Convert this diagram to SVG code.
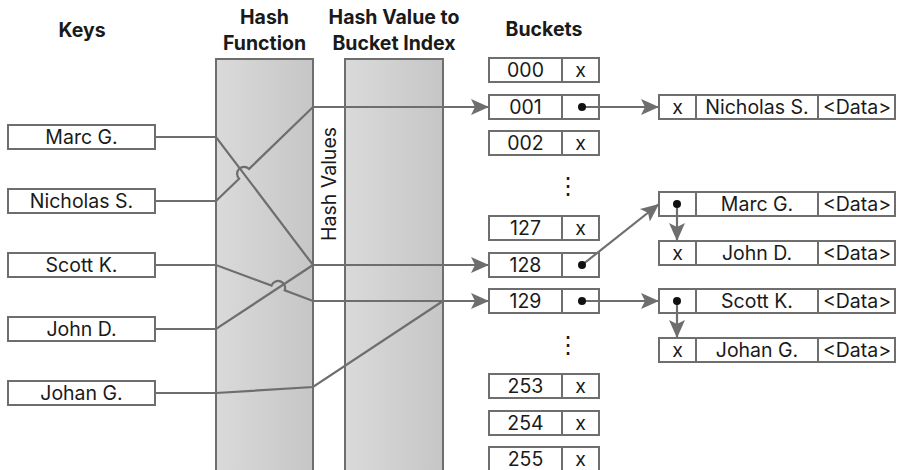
<svg xmlns="http://www.w3.org/2000/svg" width="897" height="470" viewBox="0 0 897 470">
<style>
.hdr{font-family:Inter,"Liberation Sans",sans-serif;font-weight:700;font-size:19.5px;fill:#1a1a1a;text-anchor:middle}
.lbl{font-family:Inter,"Liberation Sans",sans-serif;font-size:19.5px;fill:#1a1a1a;text-anchor:middle}
.box{fill:#fff;stroke:#6e6e6e;stroke-width:2}
.col{fill:url(#colgrad);stroke:#6e6e6e;stroke-width:2}
.wire{fill:none;stroke:#6e6e6e;stroke-width:2.2;stroke-linejoin:miter}
.arr{marker-end:url(#ah)}
.dot{fill:#111}
.ell{font-family:"DejaVu Sans",sans-serif;font-size:24px;fill:#1a1a1a;text-anchor:middle}
</style>
<defs>
<linearGradient id="colgrad" x1="0" y1="0" x2="1" y2="0">
<stop offset="0" stop-color="#dadada"/>
<stop offset="1" stop-color="#c6c6c6"/>
</linearGradient>
<marker id="ah" markerUnits="userSpaceOnUse" markerWidth="20" markerHeight="18" viewBox="0 0 20 18" refX="19" refY="9" orient="auto">
<path d="M1,1 L19,9 L1,17 L5,9 Z" fill="#6e6e6e"/>
</marker>
</defs>
<rect width="897" height="470" fill="#fff"/>

<g id="headers">
<text class="hdr" x="82" y="37">Keys</text>
<text class="hdr" x="264.5" y="24">Hash</text>
<text class="hdr" x="264.5" y="50">Function</text>
<text class="hdr" x="394" y="24">Hash Value to</text>
<text class="hdr" x="394" y="50">Bucket Index</text>
<text class="hdr" x="544" y="36">Buckets</text>
</g>

<g id="hash-function">
<path class="col" d="M216,472 V59 H313 V472"/>
</g>
<g id="bucket-index">
<path class="col" d="M345,472 V59 H443 V472"/>
</g>
<g id="hash-values-label">
<text class="lbl" transform="translate(336,184) rotate(-90)">Hash Values</text>
</g>

<g id="keys">
<g id="key-marc"><rect class="box" x="8" y="125" width="147" height="24"/><text class="lbl" x="81.5" y="144">Marc G.</text></g>
<g id="key-nicholas"><rect class="box" x="8" y="189" width="147" height="24"/><text class="lbl" x="81.5" y="208">Nicholas S.</text></g>
<g id="key-scott"><rect class="box" x="8" y="253" width="147" height="24"/><text class="lbl" x="81.5" y="272">Scott K.</text></g>
<g id="key-john"><rect class="box" x="8" y="317" width="147" height="24"/><text class="lbl" x="81.5" y="336">John D.</text></g>
<g id="key-johan"><rect class="box" x="8" y="381" width="147" height="24"/><text class="lbl" x="81.5" y="400">Johan G.</text></g>
</g>

<g id="buckets">
<g id="b000"><rect class="box" x="489" y="58" width="73" height="24"/><rect class="box" x="562" y="58" width="37" height="24"/><text class="lbl" x="525.5" y="77">000</text><text class="lbl" x="580.5" y="77">x</text></g>
<g id="b001"><rect class="box" x="489" y="95" width="73" height="24"/><rect class="box" x="562" y="95" width="37" height="24"/><text class="lbl" x="525.5" y="114">001</text></g>
<g id="b002"><rect class="box" x="489" y="131" width="73" height="24"/><rect class="box" x="562" y="131" width="37" height="24"/><text class="lbl" x="525.5" y="150">002</text><text class="lbl" x="580.5" y="150">x</text></g>
<text class="ell" x="568" y="194">⋮</text>
<g id="b127"><rect class="box" x="489" y="216" width="73" height="24"/><rect class="box" x="562" y="216" width="37" height="24"/><text class="lbl" x="525.5" y="235">127</text><text class="lbl" x="580.5" y="235">x</text></g>
<g id="b128"><rect class="box" x="489" y="253" width="73" height="24"/><rect class="box" x="562" y="253" width="37" height="24"/><text class="lbl" x="525.5" y="272">128</text></g>
<g id="b129"><rect class="box" x="489" y="289" width="73" height="24"/><rect class="box" x="562" y="289" width="37" height="24"/><text class="lbl" x="525.5" y="308">129</text></g>
<text class="ell" x="568" y="353">⋮</text>
<g id="b253"><rect class="box" x="489" y="374" width="73" height="24"/><rect class="box" x="562" y="374" width="37" height="24"/><text class="lbl" x="525.5" y="393">253</text><text class="lbl" x="580.5" y="393">x</text></g>
<g id="b254"><rect class="box" x="489" y="411" width="73" height="24"/><rect class="box" x="562" y="411" width="37" height="24"/><text class="lbl" x="525.5" y="430">254</text><text class="lbl" x="580.5" y="430">x</text></g>
<g id="b255"><rect class="box" x="489" y="447" width="73" height="24"/><rect class="box" x="562" y="447" width="37" height="24"/><text class="lbl" x="525.5" y="466">255</text><text class="lbl" x="580.5" y="466">x</text></g>
</g>

<g id="entries">
<g id="e-nicholas"><rect class="box" x="659" y="95" width="37" height="24"/><rect class="box" x="696" y="95" width="122" height="24"/><rect class="box" x="818" y="95" width="77" height="24"/><text class="lbl" x="677.5" y="114">x</text><text class="lbl" x="757" y="114">Nicholas S.</text><text class="lbl" x="857" y="114">&lt;Data&gt;</text></g>
<g id="e-marc"><rect class="box" x="659" y="192" width="37" height="24"/><rect class="box" x="696" y="192" width="122" height="24"/><rect class="box" x="818" y="192" width="77" height="24"/><text class="lbl" x="757" y="211">Marc G.</text><text class="lbl" x="857" y="211">&lt;Data&gt;</text></g>
<g id="e-john"><rect class="box" x="659" y="241" width="37" height="24"/><rect class="box" x="696" y="241" width="122" height="24"/><rect class="box" x="818" y="241" width="77" height="24"/><text class="lbl" x="677.5" y="260">x</text><text class="lbl" x="757" y="260">John D.</text><text class="lbl" x="857" y="260">&lt;Data&gt;</text></g>
<g id="e-scott"><rect class="box" x="659" y="289" width="37" height="24"/><rect class="box" x="696" y="289" width="122" height="24"/><rect class="box" x="818" y="289" width="77" height="24"/><text class="lbl" x="757" y="308">Scott K.</text><text class="lbl" x="857" y="308">&lt;Data&gt;</text></g>
<g id="e-johan"><rect class="box" x="659" y="338" width="37" height="24"/><rect class="box" x="696" y="338" width="122" height="24"/><rect class="box" x="818" y="338" width="77" height="24"/><text class="lbl" x="677.5" y="357">x</text><text class="lbl" x="757" y="357">Johan G.</text><text class="lbl" x="857" y="357">&lt;Data&gt;</text></g>
</g>

<g id="connectors">
<path class="wire arr" d="M155,201 H216 L239.1,178.7 A7,7 0 0 1 249.1,168.9 L313,107 H489"/>
<path class="wire arr" d="M155,137 H216 L313,265 H489"/>
<path class="wire" d="M155,329 H216 L313,265"/>
<path class="wire arr" d="M155,265 H216 L271.5,285.6 A7,7 0 0 1 284.7,290.4 L313,301 H489"/>
<path class="wire" d="M155,393 H216 L313,387 L443,301"/>
<path class="wire arr" d="M582,107 H659"/>
<path class="wire arr" d="M582,265 L659,204"/>
<path class="wire arr" d="M582,301 H659"/>
<path class="wire arr" d="M677,204 V241"/>
<path class="wire arr" d="M677,301 V338"/>
<circle class="dot" cx="582" cy="107" r="4"/>
<circle class="dot" cx="582" cy="265" r="4"/>
<circle class="dot" cx="582" cy="301" r="4"/>
<circle class="dot" cx="677" cy="204" r="4"/>
<circle class="dot" cx="677" cy="301" r="4"/>
</g>
</svg>
